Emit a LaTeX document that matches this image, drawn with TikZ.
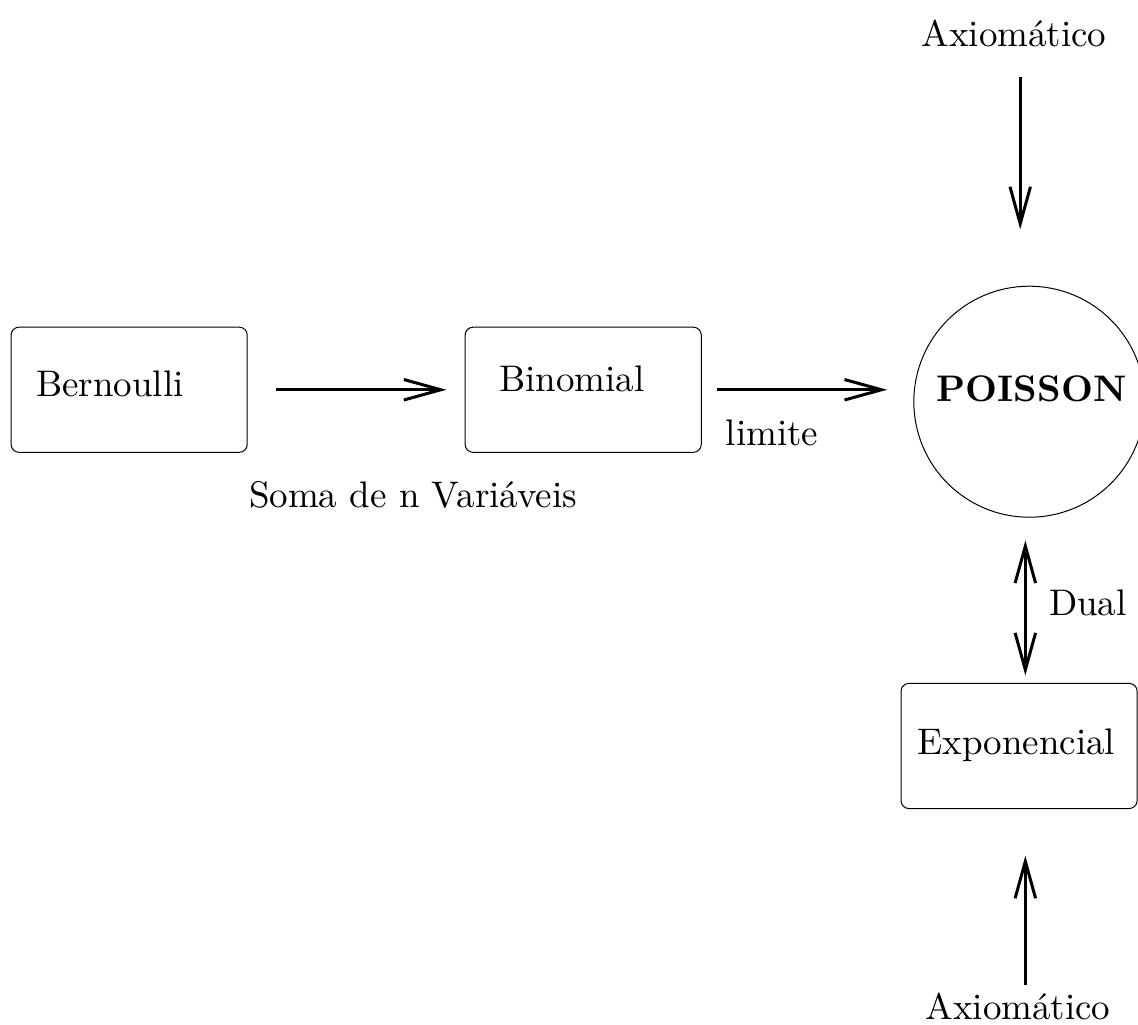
\documentclass[tikz,border=0pt]{standalone}
\usepackage{fontspec}
\setmainfont{lmroman10}[Extension=.otf,UprightFont=*-regular,BoldFont=*-bold]
\usetikzlibrary{arrows.meta}
\begin{document}
\begin{tikzpicture}[font=\fontsize{18.5}{22}\selectfont]
\tikzstyle{caixa}=[draw,line width=0.5pt,rounded corners=0.14cm,minimum width=4.15cm,minimum height=2.2cm]
\tikzstyle{seta}=[line width=1.5pt,-{Straight Barb[length=0.65cm,width=0.36cm,line width=1.5pt]}]
\tikzstyle{dupla}=[line width=1.5pt,{Straight Barb[length=0.65cm,width=0.36cm,line width=1.5pt]}-{Straight Barb[length=0.65cm,width=0.36cm,line width=1.5pt]}]
\useasboundingbox (0,0) rectangle (20,18);
% caixas e circulo
\path (2.27,11.15) node[caixa](bern){}
      (10.25,11.15) node[caixa](binom){}
      (18.09,10.94) node[draw,line width=0.5pt,circle,minimum size=4.06cm](poisson){}
      (17.91,4.89) node[caixa](expo){};
% textos
\path (1.93,11.25) node(tbern){Bernoulli}
      (10.05,11.34) node(tbinom){Binomial}
      (18.13,11.16) node(tpoisson){\textbf{POISSON}}
      (17.86,4.90) node(texpo){Exponencial};
\path (7.26,9.30) node(soma){Soma de n Variáveis}
      (13.57,10.39) node(lim){limite}
      (19.12,7.40) node(dual){Dual}
      (17.82,17.42) node(axtop){Axiomático}
      (17.89,0.32) node(axbot){Axiomático};

\draw[seta,shorten <=0.49cm,shorten >=0.32cm] (bern) -- (binom);
\draw[seta,shorten <=0.26cm,shorten >=0.46cm] (binom.east) -- (binom.east -| poisson.west);
\draw[seta,shorten <=0.41cm,shorten >=0.99cm] ([xshift=0.11cm]axtop.south) -- ([xshift=0.11cm]axtop.south |- poisson.north);
\draw[dupla,shorten <=0.40cm,shorten >=0.13cm] ([xshift=-0.07cm]poisson.south) -- ([xshift=-0.07cm]poisson.south |- expo.north);
\draw[seta,shorten >=0.82cm] ([xshift=0.13cm]axbot.north) -- ([xshift=0.13cm]axbot.north |- expo.south);
\end{tikzpicture}
\end{document}
